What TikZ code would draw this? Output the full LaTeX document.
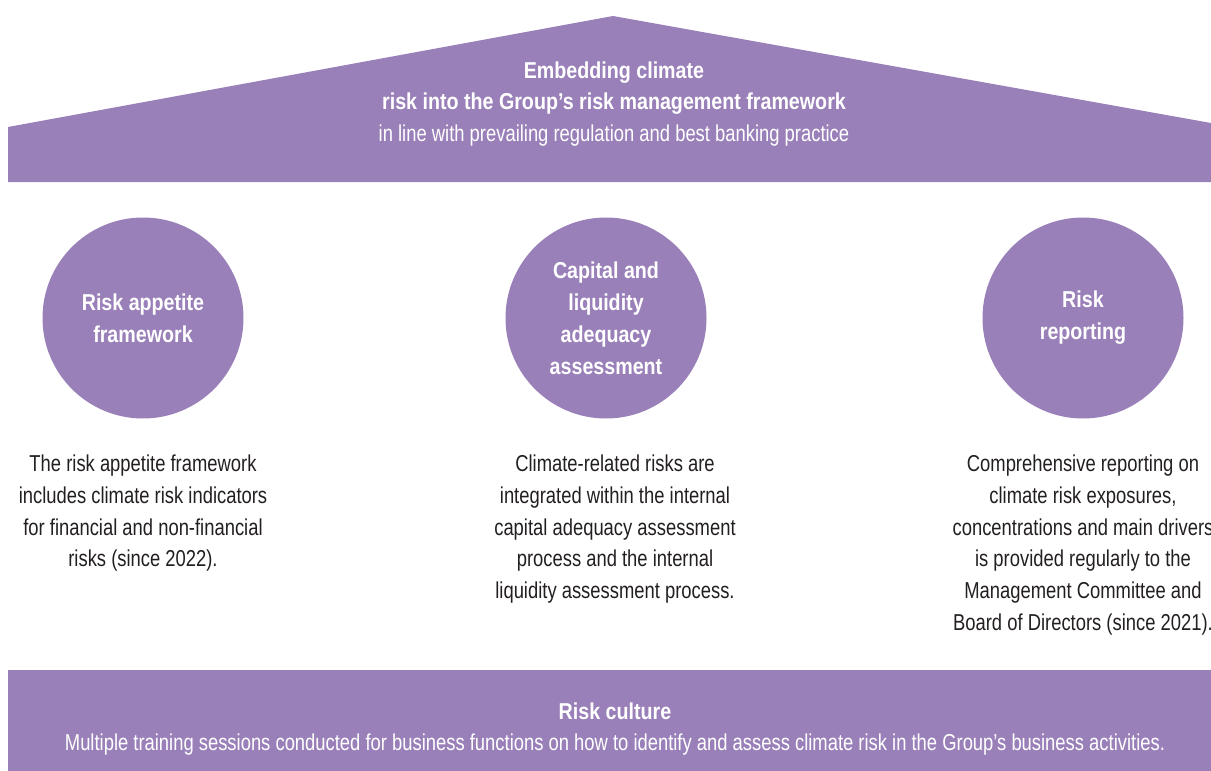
\documentclass[tikz,border=0pt]{standalone}
\usepackage{fontspec}
\setmainfont{Liberation Sans}[FakeStretch=0.8, BoldFeatures={FakeStretch=0.855}]
\definecolor{RKPurple}{HTML}{9A80B9}
\definecolor{RKText}{HTML}{231F20}
\usetikzlibrary{positioning}

\begin{document}
\begin{tikzpicture}[x=1pt, y=-1pt, font=\fontsize{23}{31.8}\selectfont, node distance=30pt,
    pillar/.style={circle, fill=RKPurple, minimum size=201pt, inner sep=0pt, text=white, align=center, font=\fontsize{23}{32}\selectfont\bfseries},
    desc/.style={text=RKText, align=center, inner sep=0pt},
    band/.style={text=white, align=center}]
  \useasboundingbox (0,0) rectangle (1211,771);
  % roof
  \fill[RKPurple] (8,182) -- (8,127) -- (613,16) -- (1211,123) -- (1211,182) -- cycle;
  \node[band] (roof) at (614,104) {\textbf{Embedding climate}\\\textbf{risk into the Group’s risk management framework}\\in line with prevailing regulation and best banking practice};
  % pillars
  \node[pillar] (appetite) at (143,318) {Risk appetite\\framework};
  \node[pillar] (capital) at (606,318) {Capital and\\liquidity\\adequacy\\assessment};
  \node[pillar] (reporting) at (1083,318) {Risk\\reporting};
  \node[desc, below=36pt of appetite] (appetitetxt) {The risk appetite framework\\includes climate risk indicators\\for financial and non-financial\\risks (since 2022).};
  \node[desc, below=36pt of capital, xshift=9pt] (capitaltxt) {Climate-related risks are\\integrated within the internal\\capital adequacy assessment\\process and the internal\\liquidity assessment process.};
  \node[desc, below=36pt of reporting] (reportingtxt) {Comprehensive reporting on\\climate risk exposures,\\concentrations and main drivers\\is provided regularly to the\\Management Committee and\\Board of Directors (since 2021).};
  % base
  \fill[RKPurple] (8,670) rectangle (1211,771);
  \node[band] (culture) at (615,729) {\textbf{Risk culture}\\Multiple training sessions conducted for business functions on how to identify and assess climate risk in the Group’s business activities.};
\end{tikzpicture}
\end{document}
